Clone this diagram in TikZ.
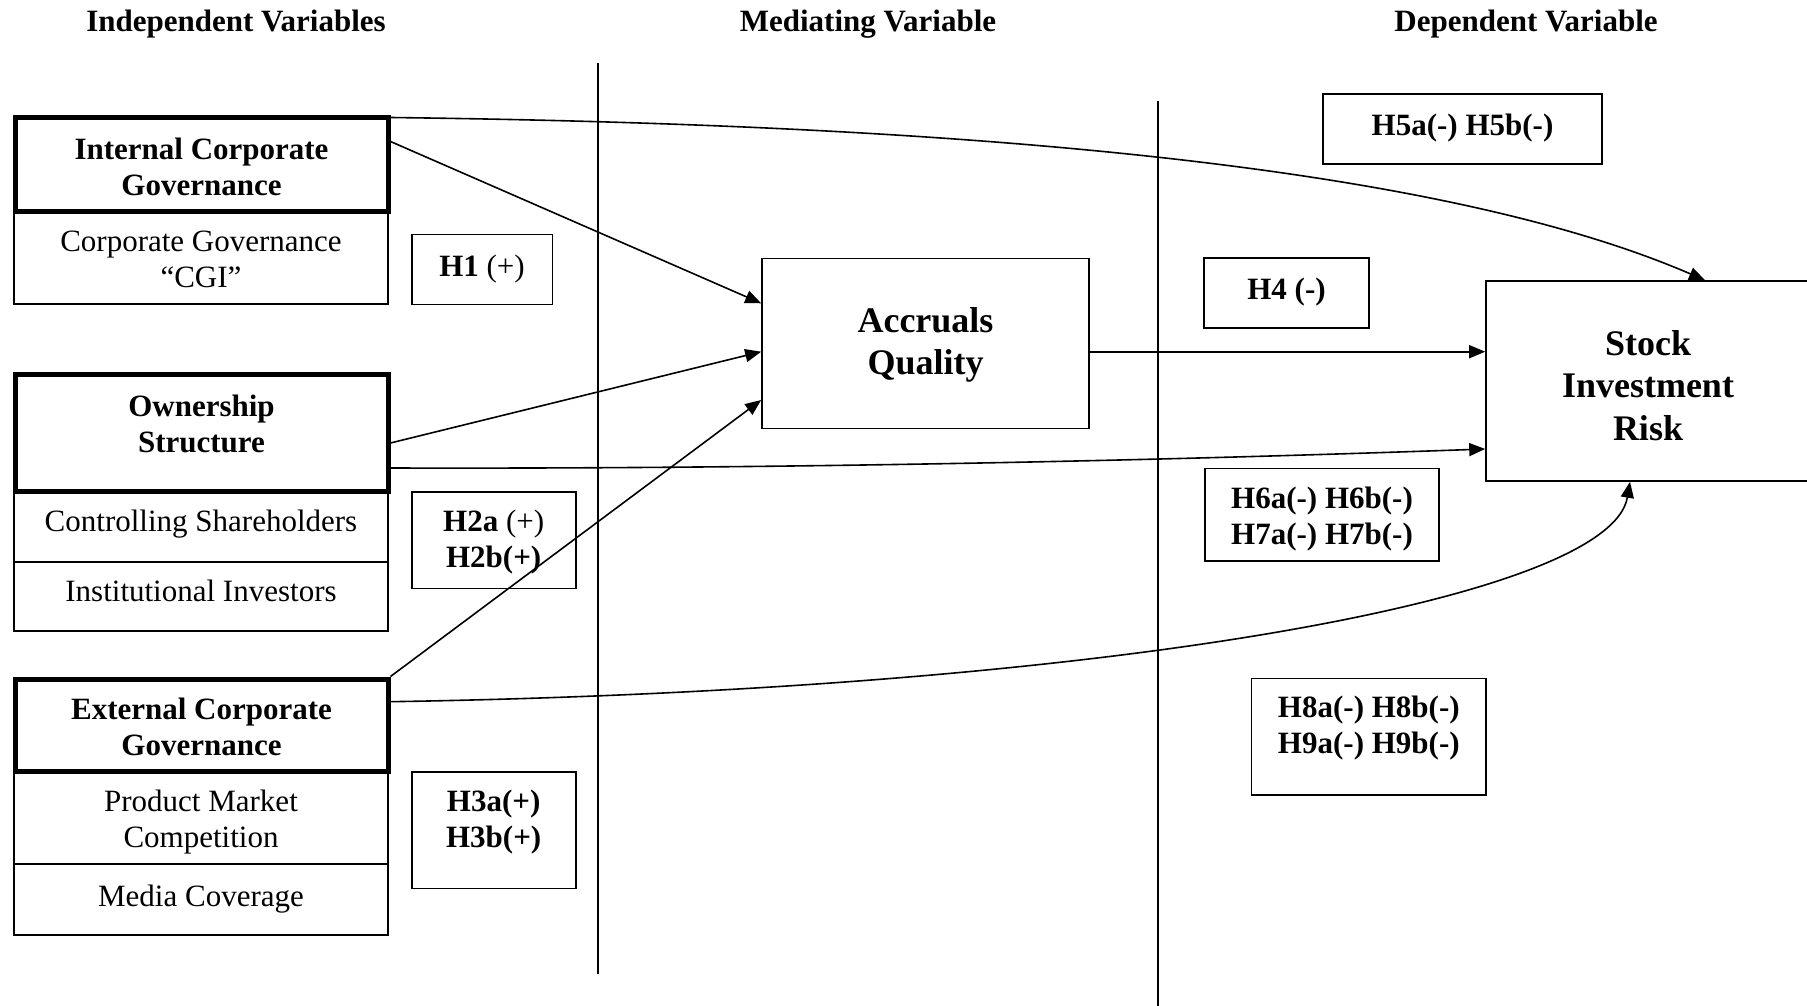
\documentclass[tikz,border=0pt]{standalone}
\usepackage{fontspec}
\setmainfont{Liberation Serif}
\usetikzlibrary{arrows.meta,calc}
\newcommand{\fsbody}{\fontsize{31}{36}\selectfont}
\newcommand{\fsbig}{\fontsize{36}{42.5}\selectfont}
\begin{document}
\begin{tikzpicture}[x=1pt,y=-1pt,
  every node/.style={inner sep=2pt, align=center},
  box/.style={draw, line width=1.6pt},
  mainbox/.style={draw, line width=5pt},
  labr/.style={font=\fsbody},
  labb/.style={font=\fsbody\bfseries},
  labbig/.style={font=\fsbig\bfseries},
  head/.style={font=\fsbody\bfseries},
  divider/.style={line width=1.6pt},
  conn/.style={line width=1.6pt, -{Triangle[length=16pt,width=13pt]}}
]
\useasboundingbox (0,0) rectangle (1807,1006);

% column headings
\node[head] (hind) at (236,24.3) {Independent Variables};
\node[head] (hmed) at (868,24.3) {Mediating Variable};
\node[head] (hdep) at (1526,24.3) {Dependent Variable};

% column dividers
\coordinate (d1t) at (598,63);
\coordinate (d1b) at (598,974);
\coordinate (d2t) at (1158,101);
\coordinate (d2b) at (1158,1006);
\draw[divider] (d1t) -- (d1b);
\draw[divider] (d2t) -- (d2b);

% measures under each group
\node[box, minimum width=374pt, minimum height=93pt,
      label={[labr, yshift=-1.7pt]center:{Corporate Governance\\“CGI”}}] (cgi) at (201,257.5) {};
\node[box, minimum width=374pt, minimum height=71pt,
      label={[labr, yshift=2.7pt]center:Controlling Shareholders}] (ctrl) at (201,526.5) {};
\node[box, minimum width=374pt, minimum height=69pt,
      label={[labr, yshift=6pt]center:Institutional Investors}] (inst) at (201,596.5) {};
\node[box, minimum width=374pt, minimum height=93pt,
      label={[labr, yshift=-4.6pt]center:{Product Market\\Competition}}] (pmc) at (201,817.5) {};
\node[box, minimum width=374pt, minimum height=71pt,
      label={[labr, yshift=0.5pt]center:Media Coverage}] (media) at (201,899.5) {};

% independent variable groups
\node[mainbox, minimum width=373pt, minimum height=93pt,
      label={[labb, yshift=-2.3pt]center:{Internal Corporate\\Governance}}] (int) at (201.5,164.5) {};
\node[mainbox, minimum width=373pt, minimum height=117pt,
      label={[labb, yshift=9pt]center:{Ownership\\Structure}}] (own) at (201.5,432.5) {};
\node[mainbox, minimum width=373pt, minimum height=92pt,
      label={[labb, yshift=-2.3pt]center:{External Corporate\\Governance}}] (ext) at (201.5,725) {};

% hypotheses
\node[box, minimum width=140.6pt, minimum height=70pt,
      label={[labr]center:{\textbf{H1} (+)}}] (h1) at (482,269.3) {};
\node[box, minimum width=164pt, minimum height=96.6pt,
      label={[labr, yshift=-2.3pt]center:{\textbf{H2a} (+)\\\textbf{H2b(+)}}}] (h2) at (493.7,540) {};
\node[box, minimum width=164pt, minimum height=116.6pt,
      label={[labb, yshift=7.7pt]center:{H3a(+)\\H3b(+)}}] (h3) at (493.7,830) {};
\node[box, minimum width=165pt, minimum height=70pt,
      label={[labb, yshift=1pt]center:{H4 (-)}}] (h4) at (1286.5,293) {};
\node[box, minimum width=279pt, minimum height=70pt,
      label={[labb, yshift=1pt]center:{H5a(-) H5b(-)}}] (h5) at (1462.5,129) {};
\node[box, minimum width=234pt, minimum height=92.7pt,
      label={[labb, yshift=-4pt]center:{H6a(-) H6b(-)\\H7a(-) H7b(-)}}] (h67) at (1322,514.7) {};
\node[box, minimum width=234.3pt, minimum height=116.7pt,
      label={[labb, yshift=8.3pt]center:{H8a(-) H8b(-)\\H9a(-) H9b(-)}}] (h89) at (1368.8,736.7) {};

% mediating and dependent variables
\node[box, minimum width=327pt, minimum height=170pt,
      label={[labbig, yshift=-1.7pt]center:{Accruals\\Quality}}] (acc) at (925.5,343.3) {};
\node[box, minimum width=324pt, minimum height=200pt,
      label={[labbig, yshift=-4.6pt]center:{Stock\\Investment\\Risk}}] (stock) at (1648,381) {};

% paths
\draw[conn] ([yshift=-2pt]int.north east) .. controls (1000,125) and (1450,170) .. ([xshift=57pt]stock.north);
\draw[conn] ([yshift=23pt]int.east) -- ([yshift=40pt]acc.west);
\draw[conn] ([yshift=-10.5pt]own.east) -- ([yshift=-8.4pt]acc.west);
\draw[conn] ([yshift=-35.5pt]own.east) .. controls (754,469) and (1120,462) .. ([yshift=-68pt]stock.west);
\draw[conn] (ext.north east) -- ([yshift=-56.7pt]acc.west);
\draw[conn] ([yshift=23.3pt]ext.east) .. controls (1100,690) and (1610,600) .. ([xshift=-18pt]stock.south);
\draw[conn] ([yshift=-8.4pt]acc.east) -- ([yshift=-8.4pt]acc.east -| stock.west);
\end{tikzpicture}
\end{document}
